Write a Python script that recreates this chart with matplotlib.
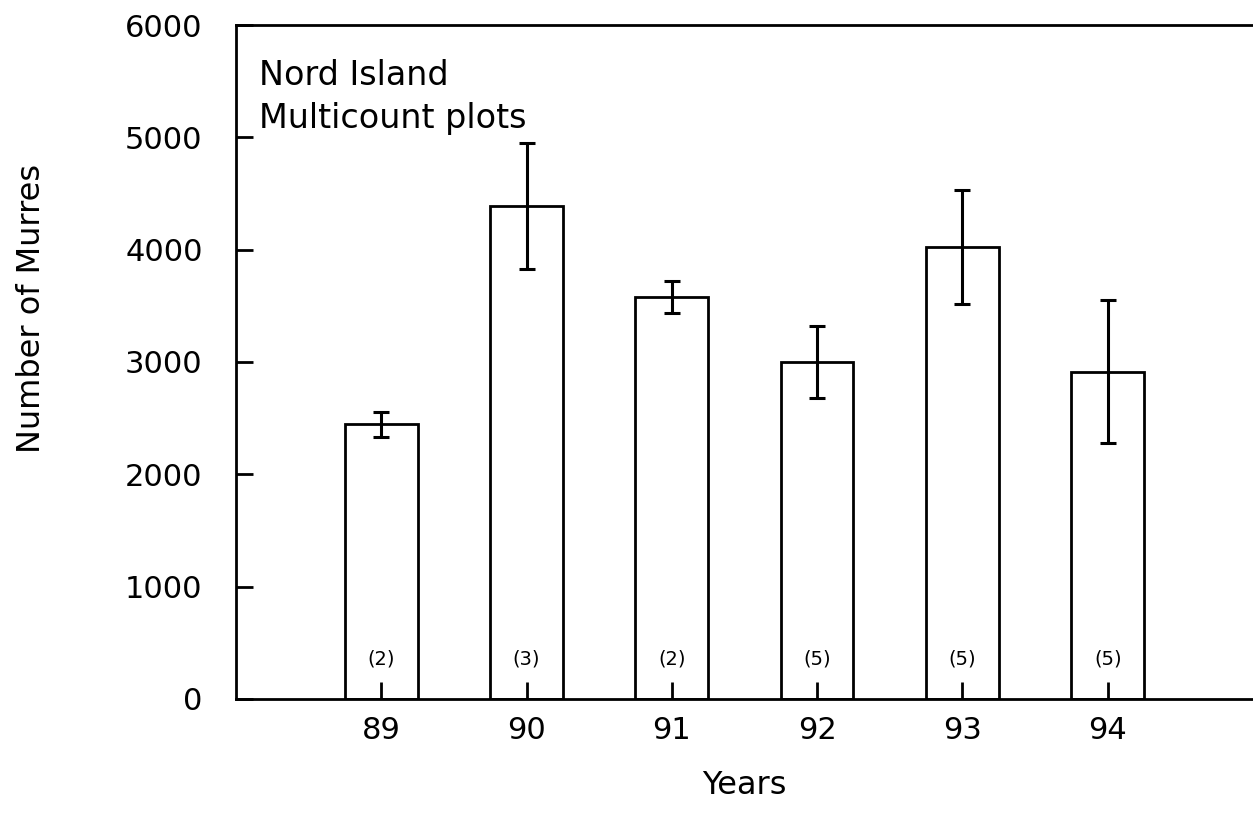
import matplotlib
matplotlib.use("Agg")
import matplotlib.pyplot as plt

# Nord Island multicount plots
years = [89, 90, 91, 92, 93, 94]
murres = [2445, 4390, 3580, 3000, 4025, 2915]
errors = [112, 560, 140, 318, 508, 635]
n_plots = ["(2)", "(3)", "(2)", "(5)", "(5)", "(5)"]
yticks = [0, 1000, 2000, 3000, 4000, 5000, 6000]

plt.rcParams['font.family'] = ['DejaVu Sans']

fig = plt.figure(figsize=(12.53, 8.23), dpi=100)
ax = fig.add_axes([0.1883, 0.1507, 0.8117, 0.8189])

ax.bar(years, murres, width=0.5, color='white', edgecolor='black', linewidth=2.0, zorder=2)
ax.errorbar(years, murres, yerr=errors, fmt='none', ecolor='black', elinewidth=2.2,
            capsize=6, capthick=2.2, zorder=3)
ax.set_axisbelow(False)

for x, lab in zip(years, n_plots):
    ax.text(x, 360, lab, ha='center', va='center', fontsize=14, zorder=4)

ax.text(88.16, 5700, "Nord Island\nMulticount plots", ha='left', va='top',
        fontsize=24, linespacing=1.38)

ax.set_xlim(88, 95)
ax.set_ylim(0, 6000)
ax.set_xticks(years)
ax.set_xticklabels([str(y) for y in years])
ax.set_yticks(yticks)

ax.spines['right'].set_visible(False)
for s in ['left', 'top', 'bottom']:
    ax.spines[s].set_linewidth(2.0)

ax.tick_params(axis='both', direction='in', length=12, width=2.0, labelsize=22)
ax.tick_params(axis='y', pad=24)
ax.tick_params(axis='x', pad=12)

ax.set_xlabel("Years", fontsize=23, labelpad=18)
ax.set_ylabel("Number of Murres", fontsize=23)
ax.yaxis.set_label_coords(-0.186, 0.58)

fig.savefig("out.png", dpi=100)
